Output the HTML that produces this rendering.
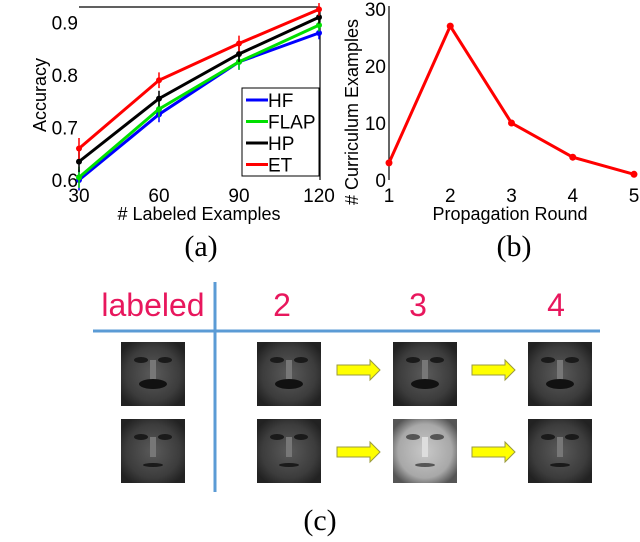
<!DOCTYPE html>
<html><head><meta charset="utf-8"><style>
body{margin:0;background:#fff;width:640px;height:537px;overflow:hidden}
svg text{font-family:"Liberation Sans",sans-serif}
.ser{font-family:"Liberation Serif",serif}
</style></head><body>
<svg id="s" width="640" height="537" viewBox="0 0 640 537" xmlns="http://www.w3.org/2000/svg">
<defs>
<radialGradient id="fd" cx="50%" cy="50%" r="60%"><stop offset="0" stop-color="#5a5a5a"/><stop offset="0.7" stop-color="#3c3c3c"/><stop offset="1" stop-color="#222"/></radialGradient>
<radialGradient id="fl" cx="50%" cy="50%" r="60%"><stop offset="0" stop-color="#c8c8c8"/><stop offset="0.7" stop-color="#a8a8a8"/><stop offset="1" stop-color="#555"/></radialGradient>
</defs>
<g id="chartA"></g>
<g id="chartB"></g>
<text class="ser" x="201" y="256" font-size="30" text-anchor="middle">(a)</text>
<text class="ser" x="514" y="256" font-size="30" text-anchor="middle">(b)</text>
<text class="ser" x="320" y="530" font-size="30" text-anchor="middle">(c)</text>
<g id="panelC">
<line x1="93" y1="331" x2="600" y2="331" stroke="#5b9bd5" stroke-width="3"/>
<line x1="215" y1="282" x2="215" y2="492" stroke="#5b9bd5" stroke-width="3"/>
<text x="153" y="316" font-size="32" fill="#e8175d" text-anchor="middle">labeled</text>
<text x="282" y="316" font-size="32" fill="#e8175d" text-anchor="middle">2</text>
<text x="418" y="316" font-size="32" fill="#e8175d" text-anchor="middle">3</text>
<text x="556" y="316" font-size="32" fill="#e8175d" text-anchor="middle">4</text>
</g>
</svg>
<script>
const NS="http://www.w3.org/2000/svg";
function mk(p,t,a){const e=document.createElementNS(NS,t);for(const k in a)e.setAttribute(k,a[k]);p.appendChild(e);return e;}
// Chart A data
const xCats=[30,60,90,120];
const seriesNames=["HF","FLAP","HP","ET"];
const seriesColors=["#0000ff","#00e000","#000000","#ff0000"];
const hfVals=[0.600,0.725,0.825,0.880];
const flapVals=[0.605,0.735,0.825,0.895];
const hpVals=[0.635,0.755,0.840,0.910];
const etVals=[0.660,0.790,0.860,0.925];
const errVals=[0.02,0.015,0.015,0.012];
const yTicksA=[0.6,0.7,0.8,0.9];
// Chart B data
const rounds=[1,2,3,4,5];
const curriculum=[3,27,10,4,1];
const yTicksB=[0,10,20,30];

const A=document.getElementById('chartA');
const xA=v=>79+(v-30)/90*240;
const yA=v=>180-(v-0.6)/0.1*52.5;
mk(A,'line',{x1:79,y1:7,x2:320,y2:7,stroke:'#000','stroke-width':1.2});
mk(A,'line',{x1:320,y1:7,x2:320,y2:180,stroke:'#000','stroke-width':1.2});
yTicksA.forEach(t=>{const e=mk(A,'text',{x:78,y:yA(t)+7,'font-size':19,'text-anchor':'end'});e.textContent=t.toFixed(1);

});
xCats.forEach(c=>{const e=mk(A,'text',{x:xA(c),y:202,'font-size':19,'text-anchor':'middle'});e.textContent=c;

});
let t=mk(A,'text',{x:199,y:220,'font-size':18,'text-anchor':'middle'});t.textContent='# Labeled Examples';


t=mk(A,'text',{x:0,y:0,'font-size':18,'text-anchor':'middle',transform:'translate(46,95) rotate(-90)'});t.textContent='Accuracy';


[hfVals,flapVals,hpVals,etVals].forEach((vals,i)=>{
  const g=mk(A,'g',{});
  
  
  mk(g,'polyline',{points:vals.map((v,j)=>xA(xCats[j])+','+yA(v)).join(' '),fill:'none',stroke:seriesColors[i],'stroke-width':3});
  vals.forEach((v,j)=>{
    const x=xA(xCats[j]);
    mk(g,'line',{x1:x,y1:yA(v+errVals[j]),x2:x,y2:yA(v-errVals[j]),stroke:seriesColors[i],'stroke-width':1.5});
    const p=mk(g,'circle',{cx:x,cy:yA(v),r:3,fill:seriesColors[i]});
    
    
  });
});
const L=mk(A,'g',{});


mk(L,'rect',{x:242,y:88,width:77,height:88,fill:'#fff',stroke:'#000','stroke-width':1});
seriesNames.forEach((n,i)=>{const y=100+i*21.5;
  mk(L,'line',{x1:246,y1:y,x2:268,y2:y,stroke:seriesColors[i],'stroke-width':3});
  const e=mk(L,'text',{x:268,y:y+7,'font-size':19});e.textContent=n;
  
  });

// Chart B
const B=document.getElementById('chartB');
const xB=v=>389+(v-1)/4*245;
const yB=v=>180-v/10*57;
mk(B,'line',{x1:389,y1:6,x2:389,y2:180,stroke:'#000','stroke-width':1.2});
yTicksB.forEach(v=>{const e=mk(B,'text',{x:386,y:yB(v)+7,'font-size':19,'text-anchor':'end'});e.textContent=v;

});
rounds.forEach(r=>{const e=mk(B,'text',{x:xB(r),y:202,'font-size':19,'text-anchor':'middle'});e.textContent=r;

});
t=mk(B,'text',{x:510,y:220,'font-size':18,'text-anchor':'middle'});t.textContent='Propagation Round';


t=mk(B,'text',{x:0,y:0,'font-size':18,'text-anchor':'middle',transform:'translate(358,112) rotate(-90)'});t.textContent='# Curriculum Examples';


mk(B,'polyline',{points:curriculum.map((v,j)=>xB(rounds[j])+','+yB(v)).join(' '),fill:'none',stroke:'#ff0000','stroke-width':3});
curriculum.forEach((v,j)=>{const p=mk(B,'circle',{cx:xB(rounds[j]),cy:yB(v),r:3.5,fill:'#ff0000'});

});

// Panel C faces
const C=document.getElementById('panelC');
const cols=[121,257,393,528], rows=[342,419];
rows.forEach((ry,ri)=>cols.forEach((cx,ci)=>{
  const light=(ri===1&&ci===2);
  const g=mk(C,'g',{});
  
  
  mk(g,'rect',{x:cx,y:ry,width:64,height:64,fill:light?'url(#fl)':'url(#fd)'});
  const d=light?'#555':'#1a1a1a';
  mk(g,'ellipse',{cx:cx+20,cy:ry+18,rx:7,ry:3,fill:d});
  mk(g,'ellipse',{cx:cx+44,cy:ry+18,rx:7,ry:3,fill:d});
  mk(g,'rect',{x:cx+29,y:ry+18,width:6,height:20,fill:light?'#ddd':'#777'});
  if(ri===0){mk(g,'ellipse',{cx:cx+32,cy:ry+42,rx:14,ry:5,fill:'#111'});}
  else mk(g,'ellipse',{cx:cx+32,cy:ry+46,rx:10,ry:2,fill:d});
}));
[[337,370],[472,370],[337,452],[472,452]].forEach(([x,y])=>{
  const a=mk(C,'polygon',{points:`${x},${y-5} ${x+33},${y-5} ${x+33},${y-10} ${x+43},${y} ${x+33},${y+10} ${x+33},${y+5} ${x},${y+5}`,fill:'#ffff00',stroke:'#9a9a40','stroke-width':1});
  
  
});
</script>
</body></html>
